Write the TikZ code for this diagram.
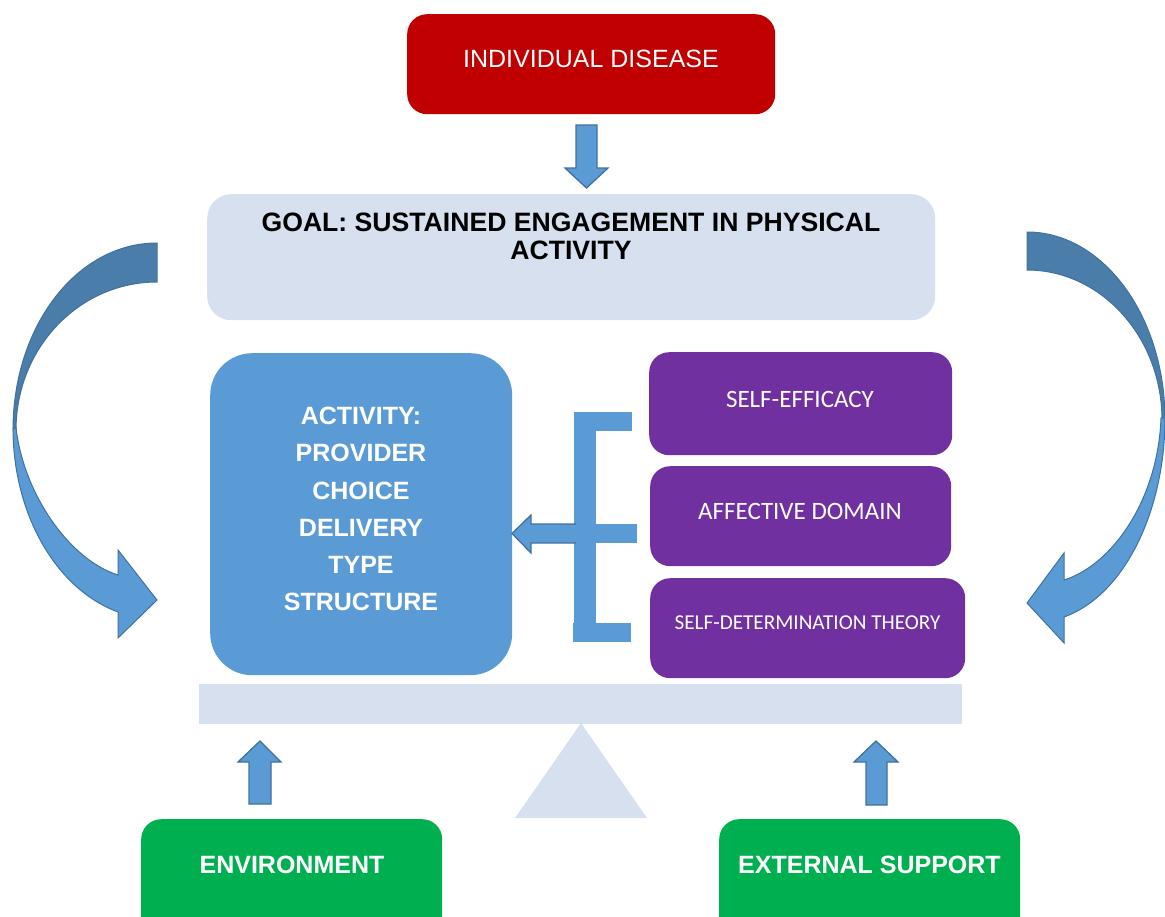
\documentclass[tikz,border=0pt]{standalone}
\usepackage{fontspec}
\setmainfont{Liberation Sans}
\newfontfamily\calfont{Carlito}
\definecolor{dred}{HTML}{C00000}
\definecolor{lblue}{HTML}{D6E0EF}
\definecolor{mblue}{HTML}{5B9BD5}
\definecolor{dblue}{HTML}{4A7DAA}
\definecolor{oblue}{HTML}{41719C}
\definecolor{purp}{HTML}{7030A0}
\definecolor{grn}{HTML}{00B050}
\tikzset{
  box/.style={draw=none, rounded corners=20, inner sep=0pt, anchor=north west},
  wtxt/.style={text=white, inner sep=0pt, align=center, font=\fontsize{25}{28}\selectfont},
  wbold/.style={wtxt, font=\fontsize{25}{28}\selectfont\bfseries},
  ptxt/.style={text=white, inner sep=0pt, font=\calfont\fontsize{25}{28}\selectfont},
  barrow/.style={fill=mblue, draw=oblue, line width=1.3pt, line join=miter},
  curvedark/.style={fill=dblue, draw=oblue, line width=1pt},
  curvelight/.style={fill=mblue, draw=oblue, line width=1pt},
}
\begin{document}
\begin{tikzpicture}[x=1pt,y=-1pt]
\useasboundingbox (0,0) rectangle (1165,916);
\clip (0,0) rectangle (1165,916);

% --- boxes ---
\node[box, fill=dred, minimum width=368, minimum height=100] (dis) at (407,14) {};
\node[wtxt] (distxt) at (591,59) {INDIVIDUAL DISEASE};

\node[box, fill=lblue, rounded corners=24, minimum width=728, minimum height=126] (goal) at (207,194) {};
\node[wbold, text=black, font=\fontsize{26.6}{28}\selectfont\bfseries] (goaltxt) at (571,236) {GOAL: SUSTAINED ENGAGEMENT IN PHYSICAL\\ACTIVITY};

\node[box, fill=mblue, rounded corners=42, minimum width=302, minimum height=322] (act) at (210,353) {};
\node[wbold, font=\fontsize{25}{37.2}\selectfont\bfseries] (acttxt) at (361,509) {ACTIVITY:\\PROVIDER\\CHOICE\\DELIVERY\\TYPE\\STRUCTURE};

\node[box, fill=purp, minimum width=303, minimum height=103] (se) at (649,352) {};
\node[ptxt] (setxt) at (800,399) {SELF-EFFICACY};
\node[box, fill=purp, minimum width=301, minimum height=100] (ad) at (650,466) {};
\node[ptxt] (adtxt) at (800,511) {AFFECTIVE DOMAIN};
\node[box, fill=purp, minimum width=315, minimum height=100] (sdt) at (650,578) {};
\node[ptxt, font=\calfont\fontsize{21.2}{24}\selectfont] (sdttxt) at (807.5,623) {SELF-DETERMINATION THEORY};

% beam and fulcrum
\node[draw=none, fill=lblue, inner sep=0pt, anchor=north west, minimum width=763, minimum height=40] (beam) at (199,684) {};
\fill[lblue] (581,723) -- (647,818) -- (515,818) -- cycle;

\node[box, fill=grn, minimum width=301, minimum height=130] (env) at (141,819) {};
\node[wbold] (envtxt) at (292,865) {ENVIRONMENT};
\node[box, fill=grn, minimum width=301, minimum height=130] (ext) at (719,819) {};
\node[wbold] (exttxt) at (869.5,865) {EXTERNAL SUPPORT};

% --- block arrows ---
% down arrow disease -> goal
\draw[barrow] (576,125) -- (597,125) -- (597,168) -- (608,168) -- (586.5,188) -- (565,168) -- (576,168) -- cycle;
% up arrows
\draw[barrow] (249,804) -- (271,804) -- (271,762) -- (281,762) -- (260,741) -- (238,762) -- (249,762) -- cycle;
\draw[barrow] (866,805) -- (887,805) -- (887,762) -- (898,762) -- (876,741) -- (854,762) -- (866,762) -- cycle;

% bracket
\fill[mblue] (574,412) rectangle (632,431);
\fill[mblue] (574,412) rectangle (596,642);
\fill[mblue] (574,524) rectangle (637,543);
\fill[mblue] (573,623) rectangle (631,642);
% left arrow from bracket to activity
\draw[barrow] (576,524) -- (531,524) -- (531,515) -- (512,533.5) -- (531,553) -- (531,543) -- (576,543);
\fill[mblue] (577,525) rectangle (590,542);

% --- curved arrows ---
% left
\draw[curvedark] (157,243) .. controls (77,243) and (13,326) .. (13,430)
  -- (16,430) .. controls (16,348) and (79,282) .. (157,282) -- cycle;
\draw[curvelight] (13,428) .. controls (13,514) and (56,589) .. (118,612)
  -- (118,638) -- (157,600) -- (118,550) -- (118,575)
  .. controls (70,560) and (24,495) .. (16,428) -- cycle;
% right
\draw[curvedark] (1027,232) .. controls (1103,232) and (1165,316) .. (1165,420)
  -- (1162,420) .. controls (1162,337) and (1101,270) .. (1027,270) -- cycle;
\draw[curvelight] (1165,418) .. controls (1165,510) and (1125,595) .. (1064,617)
  -- (1064,643) -- (1027,603) -- (1064,553) -- (1064,580)
  .. controls (1112,565) and (1158,500) .. (1161,418) -- cycle;
\end{tikzpicture}
\end{document}
